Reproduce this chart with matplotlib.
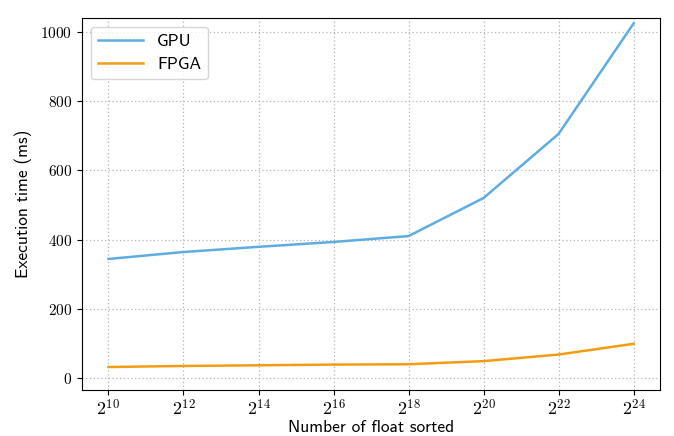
import matplotlib
matplotlib.use('Agg')
import matplotlib.pyplot as plt

plt.rcParams['mathtext.fontset'] = 'cm'
plt.rcParams['font.family'] = ['cmss10', 'DejaVu Sans']
plt.rcParams['axes.formatter.use_mathtext'] = True

# Sorting benchmark: input size as powers of two
exponents = [10, 12, 14, 16, 18, 20, 22, 24]
gpu_ms = [344, 364, 379, 393, 410, 520, 705, 1024]
fpga_ms = [32, 35, 37, 39, 40, 49, 68, 99]
y_ticks = [0, 200, 400, 600, 800, 1000]

fig, ax = plt.subplots(figsize=(6.74, 4.36), dpi=100)

ax.plot(exponents, gpu_ms, color='#5DADE2', lw=1.8, label='GPU')
ax.plot(exponents, fpga_ms, color='#F39C12', lw=1.8, label='FPGA')

ax.set_xticks(exponents)
ax.set_xticklabels([r'$2^{%d}$' % e for e in exponents], fontsize=13)
ax.set_yticks(y_ticks)
ax.set_yticklabels([r'$%d$' % v for v in y_ticks], fontsize=11)
ax.tick_params(axis='x', pad=2)
ax.set_ylim(-35, 1040)

ax.set_xlabel('Number of float sorted', fontsize=12.5, labelpad=1)
ax.set_ylabel('Execution time (ms)', fontsize=12.5, labelpad=6)

ax.grid(True, linestyle=(0, (1, 2)), color='#b5b5b5', linewidth=0.9)
ax.legend(loc='upper left', fontsize=12.5, handlelength=2.6)

plt.subplots_adjust(left=0.122, right=0.979, top=0.959, bottom=0.105)
plt.savefig('out.png', dpi=100)
